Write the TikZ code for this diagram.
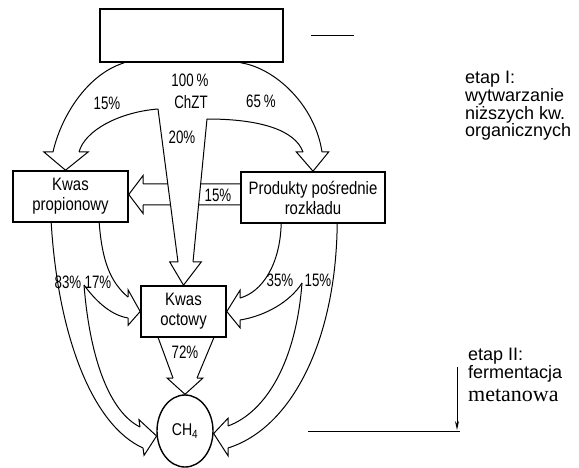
\documentclass[tikz,border=0pt]{standalone}
\usepackage{fontspec}
\setmainfont{Liberation Sans}
\newfontfamily\handfont[FakeStretch=0.83]{Liberation Sans}
\newfontfamily\labelfont[FakeStretch=0.74]{Liberation Sans}
\newfontfamily\serifname{Liberation Serif}
\usetikzlibrary{shapes.geometric,arrows.meta,positioning,calc}

\tikzset{
    % boxes of the scheme
    stagebox/.style={
        draw=black,
        fill=white,
        line width=1.6pt,
        inner sep=0pt,
        align=center,
        font=\handfont\fontsize{18}{20}\selectfont
    },
    % end product
    gasnode/.style={
        ellipse,
        draw=black,
        line width=1.4pt,
        inner sep=0pt,
        minimum width=56pt,
        minimum height=72pt,
        font=\handfont\fontsize{17}{18}\selectfont
    },
    % sides of the wide flow arrows
    flowline/.style={
        draw=black,
        line width=1pt,
        line join=miter
    },
    % percentages
    pctlabel/.style={
        inner sep=0pt,
        font=\labelfont\fontsize{18}{18}\selectfont
    },
    % stage description
    stagetext/.style={
        inner sep=0pt,
        anchor=north west,
        align=left,
        font=\fontsize{18}{14}\selectfont
    },
    % thin marks on the right
    markline/.style={
        draw=black,
        line width=1pt
    }
}

% head of a wide arrow: shaft ends #2 and #3, tip #4
\newcommand{\flowhead}[4][0.35]{%
    \draw[flowline] (#2) -- ($(#2)!-#1!(#3)$) -- (#4) -- ($(#3)!-#1!(#2)$) -- (#3);
}

\begin{document}
\begin{tikzpicture}[x=1pt, y=-1pt]
    \useasboundingbox (0,0) rectangle (579,468);

    % Substances
    \node[stagebox, minimum width=183pt, minimum height=53pt] (feed) at (191.5,35.5) {};
    \node[stagebox, minimum width=115pt, minimum height=51pt] (prop) at (70.5,196.5) {Kwas\\propionowy};
    \node[stagebox, minimum width=144pt, minimum height=51pt] (prod) at (313,197.5) {Produkty pośrednie\\rozkładu};
    \node[stagebox, minimum width=85pt, minimum height=51pt] (oct) at (183.5,311.5) {Kwas\\octowy};
    \node[gasnode] (ch4) at (185,431) {CH\textsubscript{4}};

    % Points of the flow arrows
    \coordinate (aO) at ($(feed.south west)+(25,0)$);
    \coordinate (bO) at ($(feed.south east)+(-43,0)$);
    \coordinate (cL) at (158,109);
    \coordinate (cR) at (207,119);
    \coordinate (aO1) at (53,152);
    \coordinate (aI1) at (79,152);
    \coordinate (bI1) at (303,152);
    \coordinate (bO1) at (322,152);
    \coordinate (cL1) at (178,262);
    \coordinate (cR1) at (193,262);

    % feed -> propionic acid (15%)
    \draw[flowline] (aO) .. controls (85,75) and (60,120) .. (aO1);
    \draw[flowline] (cL) .. controls (120,112) and (85,130) .. (aI1);
    \flowhead{aO1}{aI1}{$(prop.north)+(-5,0)$}

    % feed -> intermediates (65%)
    \draw[flowline] (bO) .. controls (275,68) and (315,105) .. (bO1);
    \draw[flowline] (cR) .. controls (260,119) and (295,130) .. (bI1);
    \flowhead{bI1}{bO1}{prod.north}

    % feed -> acetic acid (20%)
    \draw[flowline] (cL) -- (cL1);
    \draw[flowline] (cR) -- (cR1);
    \flowhead[0.55]{cL1}{cR1}{oct.north}

    % intermediates -> propionic acid (15%)
    \coordinate (dU0) at ($(prod.west)+(0,-13.5)$);
    \coordinate (dL0) at ($(prod.west)+(0,7.5)$);
    \coordinate (dU1) at (143,184);
    \coordinate (dL1) at (143,205);
    \draw[flowline] (dU0) -- (intersection of cR--cR1 and dU0--dU1);
    \draw[flowline] (dL0) -- (intersection of cR--cR1 and dL0--dL1);
    \draw[flowline] (intersection of cL--cL1 and dU0--dU1) -- (dU1);
    \draw[flowline] (intersection of cL--cL1 and dL0--dL1) -- (dL1);
    \flowhead[0.4]{dU1}{dL1}{$(prop.east)+(0,-2)$}

    % propionic acid -> acetic acid (17%) and -> CH4 (83%)
    \coordinate (sL) at (84,285);
    \coordinate (eO0) at ($(prop.south west)+(87,0)$);
    \coordinate (eO1) at (128,297);
    \coordinate (eI1) at (128,318);
    \draw[flowline] (eO0) .. controls (102,260) and (110,282) .. (eO1);
    \draw[flowline] (sL) .. controls (95,300) and (110,315) .. (eI1);
    \flowhead{eO1}{eI1}{oct.west}
    \coordinate (fO0) at ($(prop.south west)+(39,0)$);
    \coordinate (fO1) at (143,448);
    \coordinate (fI1) at (140,427);
    \draw[flowline] (fO0) .. controls (58,335) and (92,425) .. (fO1);
    \draw[flowline] (sL) .. controls (90,360) and (110,412) .. (fI1);
    \flowhead{fO1}{fI1}{ch4.190}

    % intermediates -> acetic acid (35%) and -> CH4 (15%)
    \coordinate (sR) at (302,283);
    \coordinate (gO0) at ($(prod.south west)+(41,0)$);
    \coordinate (gO1) at (240,298);
    \coordinate (gI1) at (240,320);
    \draw[flowline] (gO0) .. controls (280,265) and (262,292) .. (gO1);
    \draw[flowline] (sR) .. controls (290,302) and (265,316) .. (gI1);
    \flowhead{gO1}{gI1}{oct.east}
    \coordinate (hO0) at ($(prod.south west)+(97,0)$);
    \coordinate (hO1) at (228,448);
    \coordinate (hI1) at (228,426);
    \draw[flowline] (hO0) .. controls (336,340) and (292,428) .. (hO1);
    \draw[flowline] (sR) .. controls (296,362) and (266,412) .. (hI1);
    \flowhead{hO1}{hI1}{ch4.-5}

    % acetic acid -> CH4 (72%)
    \coordinate (iL0) at ($(oct.south west)+(18,0)$);
    \coordinate (iR0) at ($(oct.south east)+(-13,0)$);
    \coordinate (iL1) at (173,378);
    \coordinate (iR1) at (197,378);
    \draw[flowline] (iL0) -- (iL1);
    \draw[flowline] (iR0) -- (iR1);
    \flowhead[0.25]{iL1}{iR1}{ch4.north}

    % Percentages
    \node[pctlabel] (p100) at (190,80) {100\,\%};
    \node[pctlabel] (pchzt) at (191,102) {ChZT};
    \node[pctlabel] (pa) at (107,103) {15\%};
    \node[pctlabel] (pb) at (261,101) {65\,\%};
    \node[pctlabel] (pc) at (182,137) {20\%};
    \node[pctlabel] (pd) at (218,195) {15\%};
    \node[pctlabel] (pf) at (68,282) {83\%};
    \node[pctlabel] (pe) at (98,282) {17\%};
    \node[pctlabel] (pg) at (280,280) {35\%};
    \node[pctlabel] (ph) at (318,280) {15\%};
    \node[pctlabel] (pi) at (185,352) {72\%};

    % Stages
    \coordinate (mk0) at ($(feed.east)+(27,0)$);
    \coordinate (mk1) at ($(feed.east)+(70,0)$);
    \draw[markline, line width=1.5pt] (mk0) -- (mk1);
    \node[stagetext] (stage1) at (465,71) {etap I:\\wytwarzanie\\niższych kw.\\organicznych};
    \node[stagetext, font=\fontsize{18}{16}\selectfont] (stage2) at (468,348) {etap II:\\fermentacja};
    \node[anchor=base west, inner sep=0pt, font=\serifname\fontsize{22}{22}\selectfont] (stage2c) at (468,401) {metanowa};
    \coordinate (va0) at (457,367);
    \coordinate (va1) at (457,430);
    \coordinate (hl0) at (308,431);
    \coordinate (hl1) at (460,431);
    \draw[markline, -{Stealth[length=9pt,width=4pt]}] (va0) -- (va1);
    \draw[markline] (hl0) -- (hl1);
\end{tikzpicture}
\end{document}
